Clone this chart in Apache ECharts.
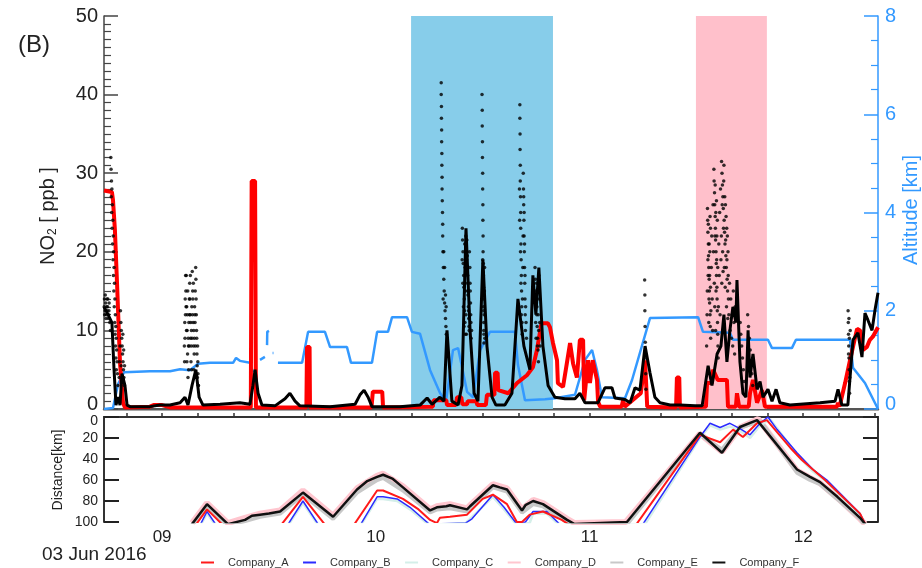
<!DOCTYPE html>
<html>
<head>
<meta charset="utf-8">
<script src="https://cdn.jsdelivr.net/npm/echarts@6/dist/echarts.min.js"></script>
<style>
  html, body { margin: 0; padding: 0; background: #fff; }
  #chart { width: 922px; height: 568px; }
</style>
</head>
<body>
<div id="chart"></div>
<script>
// Time is in decimal hours (UT) on 03 Jun 2016.
const timeMin = 8.728;
const timeMax = 12.35;
const hourLabels = [9, 10, 11, 12];

// Shaded intervals [start, end] in hours
const blueInterval = [10.165, 10.829];
const pinkInterval = [11.498, 11.83];

// Aircraft altitude [km]; null marks a data gap
const altitude = [
  [8.728,0],[8.770,0.02],[8.794,0.51],[8.822,0.75],[8.943,0.77],[9.037,0.77],[9.084,0.81],[9.130,0.79],
  [9.168,0.92],[9.224,0.94],[9.332,0.94],[9.346,1.04],[9.364,0.98],[9.411,0.94],[9.425,0.75],null,
  [9.458,1.00],[9.481,1.06],null,[9.491,1.30],[9.492,1.57],[9.500,1.59],null,[9.517,1.14],[9.521,1.14],null,
  [9.542,0.94],[9.655,0.94],[9.683,1.57],[9.762,1.57],[9.786,1.26],[9.865,1.26],[9.884,0.94],[9.982,0.94],
  [10.006,1.57],[10.057,1.57],[10.076,1.87],[10.146,1.87],[10.169,1.57],[10.207,1.53],[10.254,0.79],
  [10.300,0.33],[10.328,0.14],[10.361,1.20],[10.385,1.24],[10.427,0.35],[10.455,0.24],[10.488,1.20],
  [10.534,1.57],[10.651,1.57],[10.665,0.90],[10.698,0.18],[10.792,0.20],[10.838,0.22],[10.932,0.29],
  [10.979,1.00],[11.012,1.20],[11.035,0.79],[11.058,0.24],[11.166,0.22],[11.199,0.59],[11.283,1.85],
  [11.508,1.87],[11.531,1.57],[11.657,1.55],[11.671,1.41],[11.835,1.41],[11.854,1.24],[11.947,1.24],
  [11.966,1.41],[12.219,1.41],[12.233,0.84],[12.289,0.53],[12.350,0]
];

// Modelled NO2 [ppb]
const no2Model = [
  [8.728,27.8],[8.765,27.6],[8.770,26.6],[8.779,22.8],[8.789,16],[8.803,5.8],[8.817,0.8],[8.826,0.2],
  [8.943,0.3],[8.960,0.5],[9.000,0.5],[9.037,0.2],[9.200,0.2],[9.300,0.2],[9.415,0.2],[9.419,29],[9.435,29],
  [9.439,0.2],[9.600,0.2],[9.675,0.2],[9.678,7.9],[9.690,7.9],[9.692,0.2],[9.980,0.2],[9.986,2.2],[10.030,2.2],
  [10.034,0.2],[10.267,0.3],[10.270,1.1],[10.330,1.1],[10.333,0.5],[10.375,0.5],[10.380,1.5],[10.400,1.5],
  [10.405,0.6],[10.427,0.6],[10.430,1.0],[10.470,1.0],[10.475,0.5],[10.515,0.5],[10.520,1.8],[10.555,1.8],
  [10.558,4.6],[10.570,4.6],[10.573,2.4],[10.620,2.0],[10.661,3.3],[10.707,4.3],[10.735,5.3],[10.754,7.5],
  [10.775,10.9],[10.805,10.9],[10.815,10.4],[10.829,8.4],[10.848,6.2],[10.852,3.3],[10.876,2.8],[10.895,6],
  [10.909,8.4],[10.923,5.8],[10.941,4],[10.955,8.8],[10.970,8.8],[10.975,1.1],[10.993,6.2],[11.002,3.3],
  [11.015,6.2],[11.035,3.7],[11.040,0.9],[11.050,0.3],[11.150,0.3],[11.157,1.1],[11.165,0.3],[11.200,1.1],
  [11.240,2.0],[11.260,6.2],[11.270,0.3],[11.405,0.2],[11.409,4],[11.420,4],[11.423,0.2],[11.545,0.3],
  [11.550,3.3],[11.573,3.3],[11.578,5],[11.600,3.7],[11.643,3.7],[11.648,0.3],[11.685,0.3],[11.690,2],
  [11.700,0.3],[11.745,0.3],[11.751,2],[11.765,3.7],[11.784,0.8],[11.807,2.4],[11.821,0.3],[12.158,0.3],
  [12.163,0.8],[12.170,0.3],[12.196,3.3],[12.219,6.2],[12.233,7.9],[12.252,10.2],[12.266,10],[12.280,7.5],
  [12.298,7.9],[12.312,8.8],[12.326,9.2],[12.350,10.4]
];

// Observed NO2, smoothed [ppb]
const no2Smooth = [
  [8.728,13],[8.747,12],[8.765,11],[8.775,5],[8.784,0.5],[8.794,1.5],[8.803,0.5],[8.812,4.5],[8.826,3],
  [8.836,0.5],[8.850,0.3],[8.943,0.3],[8.990,0.5],[9.037,0.5],[9.084,0.8],[9.107,1.5],[9.121,0.5],[9.140,3],
  [9.158,5],[9.173,1.5],[9.191,0.5],[9.271,0.6],[9.364,0.8],[9.411,0.6],[9.425,3],[9.435,5],[9.449,2],
  [9.467,0.5],[9.528,0.4],[9.575,1.3],[9.598,2.0],[9.622,1.0],[9.645,0.4],[9.786,0.3],[9.903,0.6],[9.926,1.8],
  [9.945,2.4],[9.964,1.5],[9.982,0.3],[10.113,0.3],[10.207,0.5],[10.240,1.4],[10.263,0.6],[10.300,1.5],
  [10.319,1.0],[10.333,10],[10.356,1],[10.385,0.5],[10.403,3],[10.422,23],[10.441,10],[10.460,2],[10.478,1],
  [10.501,19],[10.520,8],[10.544,1.5],[10.562,0.5],[10.604,0.5],[10.637,2],[10.665,14],[10.693,8],[10.721,5],
  [10.735,17],[10.749,12],[10.763,18],[10.782,8],[10.806,3],[10.838,1.5],[10.885,1.3],[10.932,1.3],[10.955,2],
  [10.979,0.8],[11.040,0.8],[11.072,2.7],[11.105,2.7],[11.119,1.4],[11.166,1.2],[11.190,0.8],[11.213,2.7],
  [11.236,2.4],[11.260,8],[11.283,4.6],[11.306,1.5],[11.330,0.8],[11.377,0.5],[11.423,0.5],[11.494,0.4],
  [11.527,0.4],[11.555,5.5],[11.573,3],[11.597,7],[11.615,8],[11.629,12],[11.643,6],[11.657,10],[11.671,13],
  [11.685,11],[11.690,16.4],[11.704,6],[11.718,2],[11.732,1.5],[11.742,10],[11.751,4],[11.765,7],[11.784,2.5],
  [11.798,3.5],[11.812,1.5],[11.835,2.5],[11.854,1],[11.873,2.5],[11.891,0.8],[11.938,0.5],[11.985,0.6],
  [12.032,0.7],[12.079,0.8],[12.149,1.0],[12.163,2.5],[12.181,0.5],[12.209,0.5],[12.233,8.8],[12.256,9.7],
  [12.275,6.6],[12.289,12.2],[12.303,11.3],[12.322,10],[12.336,12.6],[12.350,14.8]
];

// Observed NO2, 1 s samples [ppb]
const no2Samples = [
  [8.730,14],[8.733,12.5],[8.736,13.5],[8.739,12],[8.742,14],[8.745,13],[8.748,11.5],[8.751,12.5],
  [8.729,13],[8.731,12],[8.734,14.5],[8.737,11.5],[8.740,13],[8.743,12.5],[8.746,14],[8.749,12],[8.752,13.5],
  [8.755,11],[8.758,10],
  [8.760,32],[8.761,30.5],[8.763,29],[8.765,28],[8.767,26],[8.769,24],[8.771,22],[8.773,20],[8.775,18],
  [8.777,16],[8.779,14],[8.781,12],[8.783,10.5],[8.785,9],[8.787,7.5],[8.789,6],[8.791,4.5],[8.793,3],
  [8.762,27],[8.764,25],[8.766,23],[8.768,21],[8.770,19],[8.772,17],[8.774,15],[8.776,13],[8.778,11],
  [8.780,9.5],[8.782,8],[8.784,6.5],[8.786,5],[8.799,4],[8.801,6],[8.803,8],[8.808,5.5],[8.812,3.5],
  [8.805,12.5],[8.807,11],[8.809,10],[8.811,9],[8.813,8],[8.815,7],[8.817,6],[8.819,5],[8.821,4],[8.823,3],
  [8.816,9.5],[8.820,7.5],[8.824,5.5],
  [9.105,6],[9.107,9],[9.109,12],[9.111,15],[9.113,17],[9.115,13],[9.117,10],[9.119,7],[9.121,4],[9.123,8],
  [9.125,11],[9.127,14],[9.129,16],[9.131,12],[9.133,9],[9.135,6],[9.137,10],[9.139,13],[9.141,17.5],
  [9.143,15],[9.145,11],[9.147,8],[9.149,5],[9.151,9],[9.153,12],[9.155,15],[9.157,18],[9.159,14],[9.161,10],
  [9.163,7],[9.165,4],[9.167,6],[9.169,3],
  [9.104,8],[9.106,11],[9.108,14],[9.110,17],[9.112,13],[9.114,10],[9.116,6],[9.118,12],[9.120,15],[9.122,9],
  [9.124,5],[9.126,8],[9.128,12],[9.130,14],[9.132,17],[9.134,11],[9.136,8],[9.138,5],[9.140,9],[9.142,12],
  [9.144,14],[9.146,16],[9.148,10],[9.150,7],[9.152,13],[9.154,11],[9.156,8],[9.158,16.5],[9.160,12],
  [9.162,9],[9.164,5.5],[9.166,8],[9.168,4.5],[9.170,3],
  [10.306,41.5],[10.306,40],[10.307,38.5],[10.307,37],[10.308,35.5],[10.308,34],[10.309,32.5],[10.309,31],
  [10.310,29.5],[10.310,28],[10.311,26.5],[10.312,25],[10.313,23.5],[10.313,22],[10.314,20],[10.316,18],
  [10.318,16.5],[10.320,15],[10.322,13.5],[10.324,12.5],[10.326,11.5],[10.328,10.5],[10.330,9.5],[10.318,20],
  [10.322,18],[10.315,14],[10.326,14.5],[10.329,13],
  [10.405,23],[10.406,21.5],[10.408,20],[10.409,18.5],[10.411,17],[10.412,15.5],[10.414,14],[10.415,12.5],
  [10.417,11],[10.419,9.5],[10.421,22],[10.423,20.5],[10.425,19],[10.427,17.5],[10.429,16],[10.431,14.5],
  [10.433,13],[10.435,11.5],[10.437,10],[10.440,18],[10.442,15],[10.444,12],[10.446,9],
  [10.404,19],[10.407,16],[10.410,13],[10.413,10.5],[10.416,21],[10.418,18],[10.420,15],[10.422,12],
  [10.424,9.5],[10.426,21.5],[10.428,19.5],[10.430,17],[10.432,15],[10.434,12.5],[10.436,10.5],[10.438,20],
  [10.441,16],[10.443,13.5],[10.445,11],[10.448,10],
  [10.497,40],[10.498,38],[10.498,36],[10.499,34],[10.499,32],[10.500,30],[10.500,28],[10.501,26],
  [10.501,24],[10.502,22],[10.502,20],[10.503,18.5],[10.503,17],[10.504,15.5],[10.504,14],[10.505,12.5],
  [10.505,11],[10.506,9.5],[10.506,8.4],
  [10.500,19],[10.501,17.5],[10.502,16],[10.503,14.5],[10.504,13],[10.505,10],[10.507,12],[10.508,15],
  [10.509,18],[10.510,9],
  [10.674,38.7],[10.674,37],[10.675,35],[10.675,33],[10.676,31],[10.676,29],[10.677,27],[10.678,25],
  [10.678,23],[10.679,21],[10.680,19],[10.681,17],[10.682,15],[10.683,13],[10.684,11],[10.685,9.5],
  [10.690,30],[10.691,28],[10.692,26],[10.693,24],[10.694,22],[10.695,20],[10.696,18],[10.697,16],
  [10.698,14],[10.699,12],[10.700,10],
  [10.672,28],[10.673,24],[10.677,20],[10.679,16],[10.681,12],[10.686,14],[10.688,18],[10.689,22],
  [10.692,27],[10.694,25],[10.696,21],[10.698,17],[10.701,13],[10.703,11],[10.705,9],
  [10.745,18],[10.747,16.5],[10.749,15],[10.751,13.5],[10.753,12],[10.755,10.5],[10.757,9],[10.759,7.5],
  [10.761,6],[10.763,17],[10.765,14],[10.767,11],[10.769,8],
  [10.746,14],[10.748,11],[10.750,9],[10.752,16],[10.754,13],[10.756,8],[10.758,15],[10.760,12],[10.762,10],
  [11.258,16.4],[11.259,14.5],[11.259,12.5],[11.260,10.5],[11.261,8.5],[11.262,6.5],[11.263,4.5],[11.264,2.5],
  [11.552,25.5],[11.553,24],[11.554,22.5],[11.556,21],[11.557,19.5],[11.558,18],[11.560,16.5],[11.561,15],
  [11.562,13.5],[11.564,12],[11.565,10.5],[11.567,9],[11.555,17],[11.559,14],[11.563,20],[11.566,23],
  [11.582,30.5],[11.583,29],[11.585,27.5],[11.586,26],[11.588,24.5],[11.589,23],[11.590,21.5],[11.592,20],
  [11.593,18.5],[11.594,17],[11.596,15.5],[11.597,14],[11.598,12.5],[11.599,11],[11.600,9.5],[11.601,8],
  [11.602,6.5],[11.587,22],[11.591,25],[11.595,19],
  [11.618,31.5],[11.620,30],[11.622,28.5],[11.624,27],[11.626,25.5],[11.628,29],[11.630,24],[11.632,22.5],
  [11.634,21],[11.636,26],[11.638,19.5],[11.640,18],[11.642,23],[11.644,16.5],[11.646,15],[11.648,20],[11.650,14],
  [11.548,8],[11.550,12],[11.551,15],[11.554,19],[11.556,23.5],[11.558,11],[11.560,21],[11.562,17],
  [11.564,24.5],[11.566,15.5],[11.568,12.5],[11.570,18],[11.572,22],[11.574,14],[11.576,10],[11.578,26],
  [11.580,20],[11.584,16],[11.586,13],[11.588,28.5],[11.590,10],[11.592,15],[11.594,26.5],[11.596,22],
  [11.598,24],[11.600,18],[11.603,13],[11.605,21],[11.607,17],[11.609,25],[11.611,12],[11.613,28],
  [11.615,19],[11.617,22],[11.619,16],[11.621,26],[11.623,20],[11.625,17.5],[11.627,23],[11.629,31],
  [11.631,18],[11.633,27],[11.635,15.5],[11.637,21.5],[11.639,24.5],[11.641,13],[11.643,19],[11.645,22],
  [11.647,11.5],[11.649,17],[11.652,12],[11.655,16],[11.658,10],[11.661,14],[11.664,9],[11.667,12],
  [11.670,8],[11.673,15],[11.676,11],[11.679,7],[11.682,13],
  [11.705,11],[11.708,9.5],[11.712,8],[11.716,6.5],[11.720,5],[11.724,3.5],[11.740,12],[11.744,10.5],
  [11.748,9],[11.752,7.5],[11.756,6],[11.760,4.5],[11.764,3],
  [12.210,12.5],[12.211,11],[12.212,9.5],[12.213,8],[12.214,6.5],[12.215,5],[12.216,3.5],[12.217,2],[12.220,10],
  [12.212,7],[12.214,11.5],[12.216,9],[12.218,4]
];

// Distance to each company's source [km]
const distA = [
  [9.160,102],[9.210,88],[9.280,102],[9.560,102],[9.659,76],[9.760,102],[9.900,102],[10.006,70],[10.034,70],
  [10.127,78],[10.200,88],[10.254,98],[10.286,101],[10.300,96],[10.347,95],[10.427,93],[10.500,78],[10.548,74],
  [10.614,83],[10.660,100],[10.684,100],[10.720,93],[10.782,90],[10.870,98],[10.900,102],[11.220,102],
  [11.517,17],[11.611,24],[11.672,12],[11.718,19],[11.784,6],[11.830,3],[11.947,31],[11.994,41],[12.102,60],
  [12.266,92],[12.290,102]
];
const distB = [
  [9.180,102],[9.210,90],[9.250,102],[9.590,102],[9.659,80],[9.730,102],[9.930,102],[10.006,76],[10.034,76],
  [10.100,78],[10.160,86],[10.250,102],[10.420,101],[10.450,97],[10.548,74],[10.600,86],[10.660,102],
  [10.700,100],[10.736,90],[10.800,90],[10.860,102],[11.250,102],[11.517,19],[11.564,6],[11.611,10],
  [11.657,6],[11.704,11],[11.751,17],[11.798,6],[11.835,0],[11.878,12],[11.971,34],[12.046,50],[12.111,60],
  [12.266,92],[12.290,102]
];
const distC = [
  [9.180,103],[9.210,92],[9.250,103],[9.590,103],[9.659,82],[9.730,103],[9.930,103],[10.006,78],[10.034,78],
  [10.100,80],[10.160,88],[10.250,103],[10.420,101],[10.548,76],[10.600,88],[10.660,103],[10.720,101],
  [10.736,92],[10.800,92],[10.860,103],[11.260,102],[11.517,20],[11.564,8],[11.611,12],[11.657,9],[11.704,13],
  [11.751,20],[11.798,8],[11.845,2],[11.890,14],[11.971,36],[12.046,52],[12.111,62],[12.266,94],[12.290,103]
];
const distD = [
  [9.140,101],[9.210,82],[9.308,101],[9.388,96],[9.458,92],[9.552,89],[9.659,70],[9.800,94],[9.912,68],
  [10.006,56],[10.034,54],[10.127,66],[10.254,88],[10.286,85],[10.347,83],[10.427,87],[10.441,84],[10.548,64],
  [10.614,68],[10.684,88],[10.736,79],[10.782,82],[10.895,97],[10.930,101],[11.170,100],[11.517,16],
  [11.620,33],[11.704,10],[11.790,2],[11.971,51],[12.032,58],[12.079,63],[12.160,77],[12.266,97],[12.290,102]
];
const distE = [
  [9.140,103],[9.210,86],[9.308,103],[9.388,99],[9.458,95],[9.552,92],[9.659,74],[9.800,97],[9.912,72],
  [10.006,60],[10.034,58],[10.127,70],[10.254,91],[10.286,88],[10.347,87],[10.427,90],[10.441,88],[10.548,67],
  [10.614,71],[10.684,91],[10.736,83],[10.782,85],[10.895,100],[10.930,103],[11.180,101],[11.517,17],
  [11.620,31],[11.704,10],[11.800,4],[11.971,53],[12.032,60],[12.079,64],[12.160,78],[12.266,97],[12.290,103]
];
const distF = [
  [9.140,102],[9.210,83],[9.308,102],[9.388,98],[9.420,94],[9.458,93],[9.500,92],[9.552,90],[9.659,72],
  [9.800,95],[9.912,69],[9.960,61],[10.006,57],[10.034,55],[10.080,59],[10.127,67],[10.254,89],[10.286,86],
  [10.330,85],[10.347,84],[10.427,88],[10.441,85],[10.548,65],[10.580,67],[10.614,69],[10.684,89],[10.700,84],
  [10.736,80],[10.782,83],[10.895,98],[10.930,102],[11.175,100],[11.517,15],[11.620,34],[11.704,9.5],
  [11.784,3],[11.971,50],[12.032,57],[12.079,62],[12.160,76],[12.266,96],[12.290,102]
];

const companyNames = ['Company_A', 'Company_B', 'Company_C', 'Company_D', 'Company_E', 'Company_F'];

const FONT = 'Liberation Sans, Arial, Helvetica, sans-serif';
const ALT_BLUE = '#3399ff';

// gaps in a polyline are written as nulls; ECharts breaks the line on '-'
function withGaps(arr) {
  return arr.map(p => p === null ? ['-', '-'] : p);
}

// minor time ticks every 10 minutes
const tenMinuteTicks = [];
for (let m = 530; m <= 740; m += 10) tenMinuteTicks.push(m / 60);

const chart = echarts.init(document.getElementById('chart'), null, { renderer: 'canvas' });

const timeAxisBase = {
  type: 'value', min: timeMin, max: timeMax,
  splitLine: { show: false }, axisLabel: { show: false }, axisTick: { show: false }
};

const distSeries = (name, data, color, width, z) => ({
  name, type: 'line', xAxisIndex: 2, yAxisIndex: 2, data,
  symbol: 'none', z, clip: true,
  lineStyle: { color, width }, itemStyle: { color }
});

chart.setOption({
  animation: false,
  backgroundColor: '#fff',
  textStyle: { fontFamily: FONT },
  grid: [
    { left: 104, right: 44, top: 16, height: 393 },
    { left: 104, right: 44, top: 417, height: 105 }
  ],
  xAxis: [
    Object.assign({}, timeAxisBase, { gridIndex: 0, position: 'bottom',
      axisLine: { show: true, lineStyle: { color: '#8c8c8c', width: 2.5 } } }),
    Object.assign({}, timeAxisBase, { gridIndex: 0, position: 'top',
      axisLine: { show: true, lineStyle: { color: '#555', width: 2 } } }),
    Object.assign({}, timeAxisBase, { gridIndex: 1, position: 'bottom',
      axisLine: { show: true, lineStyle: { color: '#333', width: 2 } },
      axisTick: { show: true, inside: true, length: 4, customValues: tenMinuteTicks,
        lineStyle: { color: '#333', width: 1.5 } },
      axisLabel: { show: true, customValues: hourLabels, fontSize: 17, color: '#222', margin: 7,
        fontFamily: FONT, formatter: v => (v < 10 ? '0' : '') + Math.round(v) } }),
    Object.assign({}, timeAxisBase, { gridIndex: 1, position: 'top',
      axisLine: { show: true, lineStyle: { color: '#333', width: 2 } } })
  ],
  yAxis: [
    { type: 'value', gridIndex: 0, position: 'left', min: 0, max: 50, interval: 10,
      splitLine: { show: false },
      axisLine: { show: true, lineStyle: { color: '#444', width: 1.5 } },
      axisTick: { show: true, inside: true, length: 14, lineStyle: { color: '#444', width: 1.5 } },
      minorTick: { show: true, splitNumber: 10, length: 7, lineStyle: { color: '#444', width: 1.2 } },
      axisLabel: { fontSize: 20, color: '#222', margin: 6, fontFamily: FONT,
        // lift the zero a little so it clears the lower panel's zero
        formatter: v => v === 0 ? '{lift|0}' : String(v),
        rich: { lift: { fontSize: 20, color: '#222', fontFamily: FONT, padding: [0, 0, 10, 0] } } } },
    { type: 'value', gridIndex: 0, position: 'right', min: 0, max: 8, interval: 2,
      splitLine: { show: false },
      axisLine: { show: true, lineStyle: { color: ALT_BLUE, width: 1.5 } },
      axisTick: { show: true, inside: true, length: 14, lineStyle: { color: ALT_BLUE, width: 1.5 } },
      minorTick: { show: true, splitNumber: 4, length: 7, lineStyle: { color: ALT_BLUE, width: 1.2 } },
      axisLabel: { fontSize: 20, color: ALT_BLUE, margin: 7, fontFamily: FONT,
        formatter: v => v === 0 ? '{lift|0}' : String(v),
        rich: { lift: { fontSize: 20, color: ALT_BLUE, fontFamily: FONT, padding: [0, 0, 10, 0] } } } },
    { type: 'value', gridIndex: 1, position: 'left', min: 0, max: 100, interval: 20, inverse: true,
      splitLine: { show: false },
      axisLine: { show: true, lineStyle: { color: '#333', width: 2 } },
      axisTick: { show: true, inside: true, length: 15, lineStyle: { color: '#222', width: 2 } },
      axisLabel: { fontSize: 14, color: '#222', margin: 6, fontFamily: FONT,
        formatter: v => v === 0 ? '{drop|0}' : String(v),
        rich: { drop: { fontSize: 14, color: '#222', fontFamily: FONT, padding: [8, 0, 0, 0] } } } },
    { type: 'value', gridIndex: 1, position: 'right', min: 0, max: 100, interval: 20, inverse: true,
      splitLine: { show: false },
      axisLine: { show: true, lineStyle: { color: '#333', width: 2 } },
      axisTick: { show: true, inside: true, length: 15, lineStyle: { color: '#222', width: 2 } },
      axisLabel: { show: false } }
  ],
  legend: {
    data: companyNames,
    left: 196, top: 552,
    icon: 'rect', itemWidth: 13, itemHeight: 2, itemGap: 14.5,
    textStyle: { fontSize: 11, color: '#333', fontFamily: FONT, padding: [0, 0, 0, 9] }
  },
  graphic: [
    { type: 'text', left: 18, top: 33, style: { text: '(B)', fontSize: 24, fill: '#222', fontFamily: FONT } },
    { type: 'text', left: 42, top: 545, style: { text: '03 Jun 2016', fontSize: 19, fill: '#222', fontFamily: FONT } },
    { type: 'text', x: 48, y: 216, rotation: Math.PI / 2,
      style: { text: 'NO{s|2} [ ppb ]', fontSize: 20, fill: '#222', fontFamily: FONT,
        align: 'center', verticalAlign: 'middle',
        rich: { s: { fontSize: 12, fill: '#222', fontFamily: FONT, padding: [10, 0, 0, 0] } } } },
    { type: 'text', x: 911, y: 210, rotation: Math.PI / 2,
      style: { text: 'Altitude [km]', fontSize: 20, fill: ALT_BLUE, fontFamily: FONT,
        align: 'center', verticalAlign: 'middle' } },
    { type: 'text', x: 58, y: 470, rotation: Math.PI / 2,
      style: { text: 'Distance[km]', fontSize: 14, fill: '#222', fontFamily: FONT,
        align: 'center', verticalAlign: 'middle' } }
  ],
  series: [
    { name: 'shade', type: 'line', xAxisIndex: 0, yAxisIndex: 0, data: [], z: 1, silent: true,
      markArea: { silent: true, itemStyle: { opacity: 1 },
        data: [
          [{ xAxis: blueInterval[0], itemStyle: { color: '#87cdea' } }, { xAxis: blueInterval[1] }],
          [{ xAxis: pinkInterval[0], itemStyle: { color: '#ffc0cb' } }, { xAxis: pinkInterval[1] }]
        ] } },
    { name: 'Altitude', type: 'line', xAxisIndex: 0, yAxisIndex: 1, data: withGaps(altitude),
      symbol: 'none', z: 3, connectNulls: false,
      lineStyle: { color: ALT_BLUE, width: 2.5 } },
    { name: 'NO2 model', type: 'line', xAxisIndex: 0, yAxisIndex: 0, data: no2Model,
      symbol: 'none', z: 4, lineStyle: { color: '#ff0000', width: 4 } },
    { name: 'NO2 smooth', type: 'line', xAxisIndex: 0, yAxisIndex: 0, data: no2Smooth,
      symbol: 'none', z: 5, lineStyle: { color: '#000', width: 3 } },
    { name: 'NO2 1s', type: 'scatter', xAxisIndex: 0, yAxisIndex: 0, data: no2Samples,
      symbolSize: 3.5, z: 6, itemStyle: { color: '#000' } },
    distSeries('Company_D', distD, '#ffc6cf', 6, 2),
    distSeries('Company_E', distE, '#c8c8c8', 4, 3),
    distSeries('Company_C', distC, '#d4efe9', 2.5, 4),
    distSeries('Company_B', distB, '#2b2bff', 1.5, 5),
    distSeries('Company_A', distA, '#ff1a1a', 2, 6),
    distSeries('Company_F', distF, '#111', 2.5, 7)
  ]
});
</script>
</body>
</html>
